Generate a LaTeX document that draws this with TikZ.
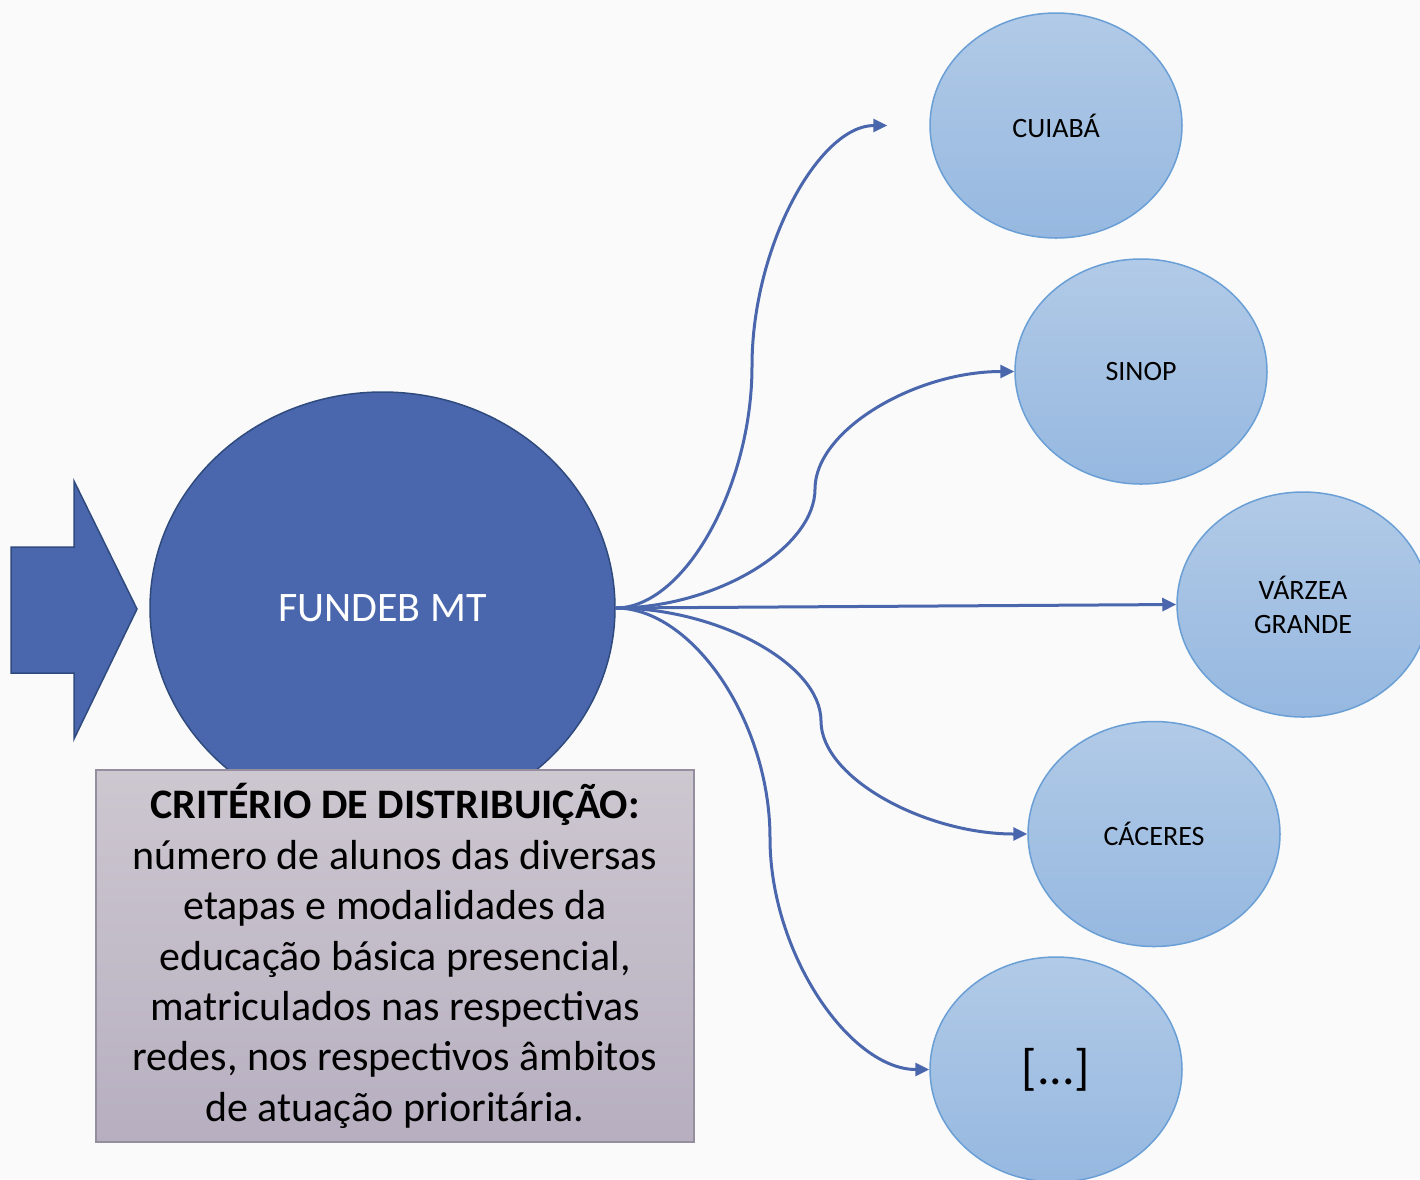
\documentclass[tikz,border=0pt]{standalone}
\usepackage{fontspec}
\setmainfont{Carlito}
\usetikzlibrary{shapes.geometric,arrows.meta,calc}
\definecolor{bg}{HTML}{FAFAFA}
\definecolor{dblue}{HTML}{4A66AC}
\definecolor{dblueb}{HTML}{2F4B7E}
\definecolor{lbtop}{HTML}{B1CAE7}
\definecolor{lbbot}{HTML}{96B8E0}
\definecolor{lbb}{HTML}{6A9FD6}
\definecolor{boxtop}{HTML}{CDC7D0}
\definecolor{boxbot}{HTML}{B7AFC0}
\definecolor{boxb}{HTML}{958E9E}
\definecolor{connc}{HTML}{4A67AE}
\begin{document}
\begin{tikzpicture}[x=1pt,y=-1pt,
  city/.style={ellipse, draw=lbb, line width=1.5pt, top color=lbtop, bottom color=lbbot,
    minimum width=252pt, minimum height=225pt, inner sep=0pt, align=center,
    font=\fontsize{28}{34}\selectfont},
  conn/.style={draw=connc, line width=3pt, -{Triangle[length=14pt,width=13pt]}}]
\useasboundingbox (0,0) rectangle (1420,1179);
\clip (0,0) rectangle (1420,1179);
\fill[bg] (0,0) rectangle (1420,1179);
% block arrow
\draw[fill=dblue, draw=dblueb, line width=1.5pt, line join=miter]
  (11,547) -- (74,547) -- (74,481) -- (137,609) -- (74,739) -- (74,673) -- (11,673) -- cycle;
% central ellipse
\node[ellipse, fill=dblue, draw=dblueb, line width=1.5pt, minimum width=465pt,
  minimum height=432pt, inner sep=0pt, text=white, font=\fontsize{42}{50}\selectfont]
  (fundeb) at (382.5,608) {FUNDEB MT};
% criterion box
\node[draw=boxb, line width=1.2pt, top color=boxtop, bottom color=boxbot,
  minimum width=598pt, minimum height=372pt, inner sep=0pt, align=center,
  font=\fontsize{42}{50.4}\selectfont] (crit) at (395,956)
  {\textbf{CRITÉRIO DE DISTRIBUIÇÃO:}\\número de alunos das diversas\\etapas e modalidades da\\educação básica presencial,\\matriculados nas respectivas\\redes, nos respectivos âmbitos\\de atuação prioritária.};
% cities
\node[city] (cui) at (1056,125.5) {CUIABÁ};
\node[city] (sin) at (1141,371.5) {SINOP};
\node[city] (var) at (1303,604.5) {VÁRZEA\\GRANDE};
\node[city] (cac) at (1154,834) {CÁCERES};
\node[city, font=\fontsize{50}{60}\selectfont] (etc) at (1056,1069.5) {[...]};
% connector helper points
\coordinate (cuiend) at ($(cui.west)+(-42,0)$);
\coordinate (m1) at (752,366);
\coordinate (m2) at (815,489);
\coordinate (m3) at (821,721);
\coordinate (m4) at (770,838);
% connectors
\draw[conn] (fundeb.east) .. controls ($(fundeb.east)+(69,0)$) and ($(m1)+(0,120)$) .. (m1)
  .. controls ($(m1)+(0,-120)$) and ($(cuiend)+(-68,0)$) .. (cuiend);
\draw[conn] (fundeb.east) .. controls ($(fundeb.east)+(100,0)$) and ($(m2)+(0,59)$) .. (m2)
  .. controls ($(m2)+(0,-59)$) and ($(sin.west)+(-99,0)$) .. (sin.west);
\draw[conn] (fundeb.east) -- (var.west);
\draw[conn] (fundeb.east) .. controls ($(fundeb.east)+(102,0)$) and ($(m3)+(0,-57)$) .. (m3)
  .. controls ($(m3)+(0,57)$) and ($(cac.west)+(-102,0)$) .. (cac.west);
\draw[conn] (fundeb.east) .. controls ($(fundeb.east)+(77,0)$) and ($(m4)+(0,-116)$) .. (m4)
  .. controls ($(m4)+(0,116)$) and ($(etc.west)+(-79,0)$) .. (etc.west);
\end{tikzpicture}
\end{document}
